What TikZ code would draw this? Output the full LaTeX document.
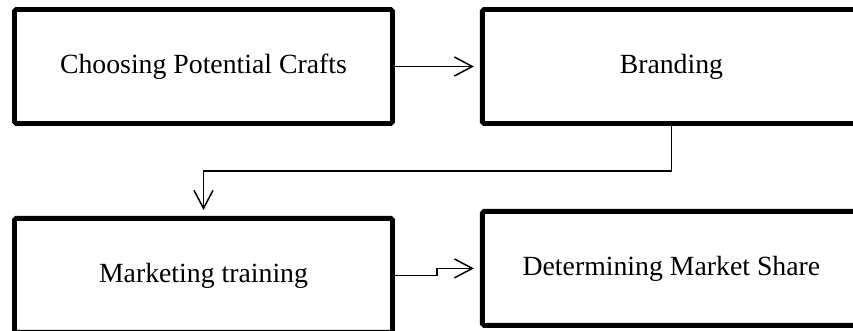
\documentclass[tikz,border=0pt]{standalone}
\usepackage{fontspec}
\setmainfont{Liberation Serif}
\usetikzlibrary{arrows.meta, positioning}

\begin{document}
\begin{tikzpicture}[
        node distance=1.8cm and 1.7cm,
        >={Straight Barb[length=0.36cm, width=0.38cm]},
        stagebox/.style={rectangle, draw, line width=2.8pt, rounded corners=1pt, minimum width=7.56cm, minimum height=2.28cm, inner sep=0pt, align=center, font=\fontsize{15.8pt}{18pt}\selectfont},
        arrow/.style={->, line width=0.85pt, shorten >=0.12cm}
    ]
    \useasboundingbox (0,0) rectangle (17.06,-6.62);

    % --- Stages ---
    \node[stagebox] (crafts) at (4.07,-1.33) {Choosing Potential Crafts};
    \node[stagebox, right=of crafts] (branding) {Branding};
    \node[stagebox, below=of crafts] (marketing) {Marketing training};
    \node[stagebox, right=of marketing, yshift=0.14cm] (share) {Determining Market Share};

    % --- Connections ---
    \draw[arrow] (crafts.east) -- (branding.west);
    \draw[arrow] (branding.south) -- ++(0,-0.9) -| (marketing.north);
    \draw[arrow] (marketing.east) -- ++(0.84,0) |- (share.west);

\end{tikzpicture}
\end{document}
